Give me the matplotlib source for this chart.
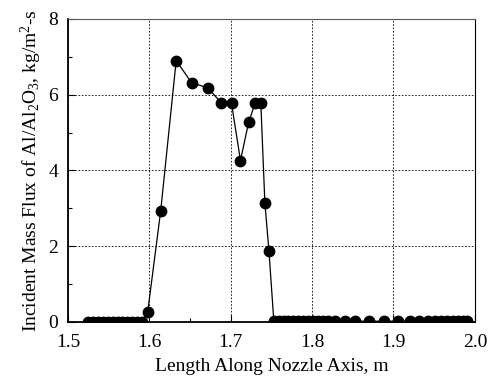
import matplotlib
matplotlib.use("Agg")
import matplotlib.pyplot as plt
from matplotlib.ticker import MultipleLocator

plt.rcParams['font.family'] = ['Liberation Serif', 'DejaVu Serif']
plt.rcParams['mathtext.fontset'] = 'custom'
plt.rcParams['mathtext.rm'] = 'Liberation Serif'
plt.rcParams['mathtext.it'] = 'Liberation Serif:italic'

# flux along the nozzle axis
x_left = [1.525, 1.531, 1.537, 1.543, 1.549, 1.555, 1.561, 1.567, 1.573, 1.579, 1.585, 1.591]
y_left = [0.01, 0.01, 0.01, 0.01, 0.01, 0.01, 0.01, 0.01, 0.01, 0.01, 0.01, 0.01]

x_peak = [1.598, 1.614, 1.633, 1.652, 1.672, 1.688, 1.701, 1.712, 1.722, 1.730, 1.737, 1.742, 1.747]
y_peak = [0.27, 2.94, 6.90, 6.31, 6.18, 5.79, 5.77, 4.26, 5.27, 5.77, 5.78, 3.14, 1.87]

x_right = [1.753, 1.759, 1.765, 1.771, 1.777, 1.783, 1.789, 1.795, 1.801, 1.807, 1.813,
           1.819, 1.828, 1.840, 1.853, 1.870, 1.888, 1.905, 1.920, 1.932, 1.942, 1.951,
           1.959, 1.966, 1.973, 1.979, 1.985, 1.991]
y_right = [0.02, 0.02, 0.02, 0.02, 0.02, 0.02, 0.02, 0.02, 0.02, 0.02, 0.02,
           0.02, 0.02, 0.02, 0.02, 0.02, 0.02, 0.02, 0.02, 0.02, 0.02, 0.02,
           0.02, 0.02, 0.02, 0.02, 0.02, 0.02]

x = x_left + x_peak + x_right
y = y_left + y_peak + y_right

fig = plt.figure(figsize=(4.89, 3.77), dpi=100)
ax = fig.add_axes([0.139, 0.146, 0.832, 0.804])

ax.plot(x, y, '-', color='k', lw=0.9, zorder=3)
# scatter so the markers sitting on zero get clipped by the axes box
ax.scatter(x, y, s=56, c='k', zorder=4, clip_on=True)

ax.set_xlim(1.5, 2.0)
ax.set_ylim(0, 8)
ax.set_xticks([1.5, 1.6, 1.7, 1.8, 1.9, 2.0])
ax.set_xticklabels(['1.5', '1.6', '1.7', '1.8', '1.9', '2.0'])
ax.xaxis.set_minor_locator(MultipleLocator(0.05))
ax.yaxis.set_major_locator(MultipleLocator(2))
ax.yaxis.set_minor_locator(MultipleLocator(1))
ax.tick_params(which='both', direction='in', labelsize=14, width=0.8)
ax.tick_params(which='major', length=5)
ax.tick_params(which='minor', length=3)
ax.tick_params(axis='x', which='major', pad=9)
ax.tick_params(axis='y', which='major', pad=7)
ax.grid(True, which='major', color='k', linestyle=(0, (2, 2)), linewidth=0.6)

ax.spines['left'].set_linewidth(1.3)
ax.spines['bottom'].set_linewidth(1.3)
ax.spines['top'].set_linewidth(0.8)
ax.spines['top'].set_color('0.35')
ax.spines['right'].set_linewidth(0.8)

ax.set_xlabel('Length Along Nozzle Axis, m', fontsize=14, labelpad=5)
ax.set_ylabel(r'Incident Mass Flux of Al/Al$_2$O$_3$, kg/m$^2$-s', fontsize=14, labelpad=3)

fig.savefig('out.png', dpi=100)
